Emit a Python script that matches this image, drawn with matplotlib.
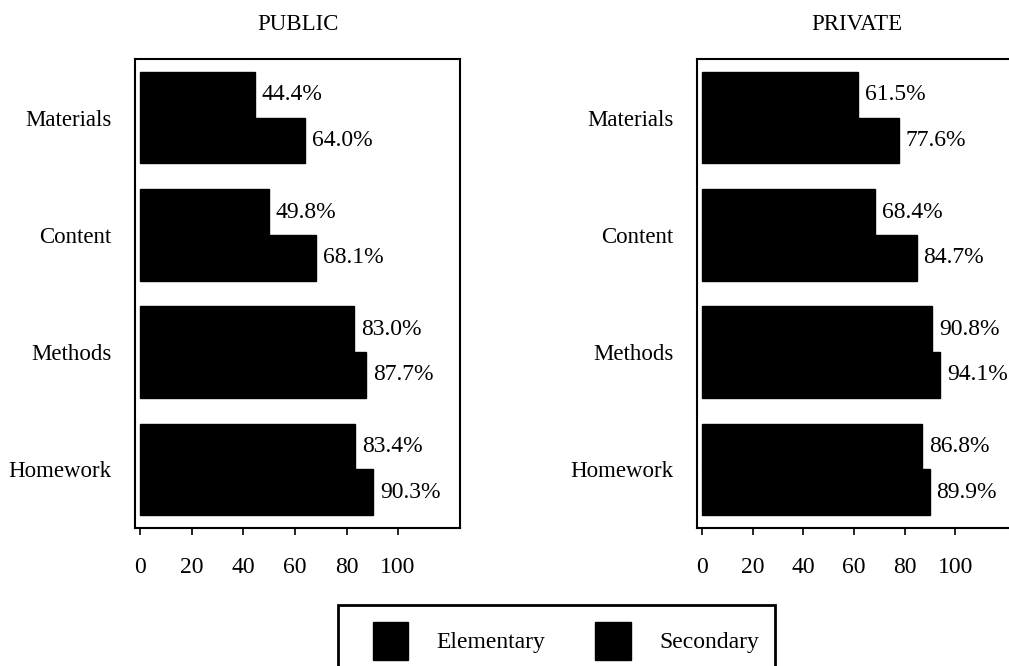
import matplotlib
matplotlib.use("Agg")
import matplotlib.pyplot as plt
import numpy as np
from matplotlib.patches import Patch, Rectangle

plt.rcParams['font.family'] = ['Liberation Serif', 'DejaVu Serif']

categories = ["Materials", "Content", "Methods", "Homework"]
series_names = ["Elementary", "Secondary"]
public_elementary = [44.4, 49.8, 83.0, 83.4]
public_secondary = [64.0, 68.1, 87.7, 90.3]
private_elementary = [61.5, 68.4, 90.8, 86.8]
private_secondary = [77.6, 84.7, 94.1, 89.9]
panel_titles = ["PUBLIC", "PRIVATE"]
x_ticks = [0, 20, 40, 60, 80, 100]

W, H = 1009, 666
fig = plt.figure(figsize=(W / 100, H / 100), dpi=100)

def fx(px):
    return px / W

def fy(py):
    return 1 - py / H

panels = [
    (135, 460, public_elementary, public_secondary),
    (697, 1016, private_elementary, private_secondary),
]
top_px, bot_px = 59, 528
bar_h = 0.39
y = np.arange(len(categories))

for (l, r, elem, sec), title in zip(panels, panel_titles):
    ax = fig.add_axes([fx(l), fy(bot_px), fx(r - l), (bot_px - top_px) / H])
    b1 = ax.barh(y - bar_h / 2, elem, height=bar_h, color='black', edgecolor='black')
    b2 = ax.barh(y + bar_h / 2, sec, height=bar_h, color='black', edgecolor='black')
    for bars, vals in ((b1, elem), (b2, sec)):
        for rect, v in zip(bars, vals):
            ax.annotate(f"{v:.1f}%", (v, rect.get_y() + rect.get_height() / 2),
                        xytext=(5, 0), textcoords='offset points',
                        ha='left', va='center', fontsize=17, clip_on=False)
    ax.set_xlim(-2, 124)
    ax.set_ylim(3.5, -0.5)
    ax.set_yticks(y)
    ax.set_yticklabels(categories, fontsize=16.5)
    ax.tick_params(axis='y', length=0, pad=17)
    ax.set_xticks(x_ticks)
    ax.set_xticklabels([str(t) for t in x_ticks], fontsize=17)
    ax.tick_params(axis='x', direction='out', length=5, width=1.2, pad=16)
    for s in ax.spines.values():
        s.set_linewidth(1.5)
    ax.set_title(title, fontsize=16.5, pad=21)

handles = [Patch(facecolor='black', edgecolor='black', label=n) for n in series_names]
leg = fig.legend(handles=handles, loc='upper left', ncol=2,
                 bbox_to_anchor=(fx(373), fy(622)), frameon=False,
                 fontsize=17, handlelength=1.5, handleheight=2.1,
                 handletextpad=1.2, columnspacing=2.1, borderpad=0, borderaxespad=0)
# legend frame (box extends beyond the bottom edge as in the reference)
fig.patches.append(Rectangle((fx(338), fy(700)), fx(775 - 338), (700 - 605) / H,
                             transform=fig.transFigure, fill=False,
                             edgecolor='black', linewidth=2, clip_on=False))

fig.savefig("out.png", dpi=100)
